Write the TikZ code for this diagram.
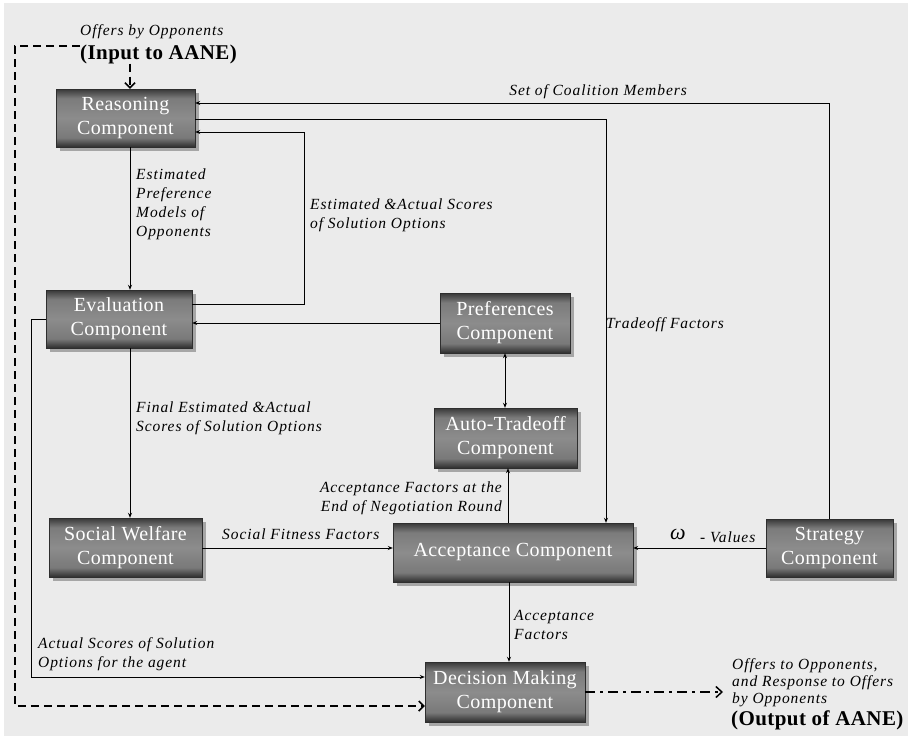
\documentclass[tikz,border=0pt]{standalone}
\usepackage{fontspec}
\setmainfont{Liberation Serif}
\newfontfamily\lblfamily[LetterSpace=6]{Liberation Serif}
\newfontfamily\boxfamily[LetterSpace=2]{Liberation Serif}
\usetikzlibrary{arrows.meta,calc,backgrounds}
\definecolor{bg}{HTML}{EBEBEB}
\definecolor{boxtop}{HTML}{383838}
\definecolor{boxmid}{HTML}{8C8C8C}
\definecolor{boxbot}{HTML}{2E2E2E}
\definecolor{shadowgray}{HTML}{A6A6A6}
% dark rim at top and bottom, light band across the middle
\pgfdeclareverticalshading{compshade}{100bp}{%
  color(0bp)=(boxbot); color(25bp)=(boxbot); color(33bp)=(boxmid!80!boxbot);
  color(50bp)=(boxmid); color(67bp)=(boxmid!80!boxtop);
  color(75bp)=(boxtop); color(100bp)=(boxtop)}
\begin{document}
\begin{tikzpicture}[x=1pt,y=-1pt,
  comp/.style={inner sep=0pt, text=white, align=center,
    font=\boxfamily\fontsize{20}{24}\selectfont,
    shading=compshade, draw=boxbot, line width=0.4pt},
  lbl/.style={inner sep=0pt, align=left, anchor=base west,
    font=\lblfamily\itshape\fontsize{15.5}{19}\selectfont},
  tag/.style={inner sep=0pt, anchor=base west,
    font=\boxfamily\bfseries\fontsize{21}{24}\selectfont},
  arr/.style={draw, line width=0.9pt, -{Stealth[length=5pt,width=4pt]}},
  flow/.style={draw, line width=1.5pt, dash pattern=on 8pt off 5pt,
    -{Straight Barb[length=5pt,width=10pt,line width=1.5pt]}},
  outflow/.style={draw, line width=1.5pt,
    dash pattern=on 10pt off 5pt on 3pt off 5pt,
    -{Straight Barb[length=6pt,width=11pt,line width=1.5pt]}},
  shadowbox/.style={fill=shadowgray}]

\useasboundingbox (0,0) rectangle (908,736);

% components
\node[comp, minimum width=139pt, minimum height=58pt] (reason) at (125.5,118) {Reasoning\\Component};
\node[comp, minimum width=146pt, minimum height=58pt] (eval)   at (119,319)   {Evaluation\\Component};
\node[comp, minimum width=130pt, minimum height=60pt] (pref)   at (505,323)   {Preferences\\Component};
\node[comp, minimum width=143pt, minimum height=60pt] (auto)   at (505.5,438) {Auto-Tradeoff\\Component};
\node[comp, minimum width=240pt, minimum height=59pt] (accept) at (513,552.5) {Acceptance Component};
\node[comp, minimum width=153pt, minimum height=59pt] (social) at (125.5,547.5){Social Welfare\\Component};
\node[comp, minimum width=127pt, minimum height=58pt] (strat)  at (829.5,548) {Strategy\\Component};
\node[comp, minimum width=160pt, minimum height=60pt] (decide) at (505,692)   {Decision Making\\Component};

% page ground and the drop shadows behind the components
\begin{scope}[on background layer]
  \fill[white] (0,0) rectangle (908,736);
  \fill[bg] (4,3) rectangle (908,736);
  \foreach \n in {reason,eval,pref,auto,accept,social,strat,decide}
    \fill[shadowbox] ($(\n.north west)+(4,4)$) rectangle ($(\n.south east)+(4,4)$);
\end{scope}

% input / output captions
\node[lbl] (inoffer) at (80,35) {Offers by Opponents};
\node[tag] (inlbl) at (80,59) {(Input to AANE)};
\node[lbl, font=\lblfamily\itshape\fontsize{15.5}{17}\selectfont] (outoffer) at (732,703)
  {Offers to Opponents,\\and Response to Offers\\by Opponents};
\node[tag] (outlbl) at (731,725) {(Output of AANE)};

% routing points
\coordinate (colL)  at (130,0);
\coordinate (coal)  at (829,103);
\coordinate (trade) at (606,119);
\coordinate (sc1)   at (304,304);
\coordinate (sc2)   at (304,132);
\coordinate (ac1)   at (31,319);
\coordinate (ac2)   at (31,677);
\coordinate (sf)    at (300,548);
\coordinate (upx)   at (508,0);
\coordinate (dnx)   at (509,0);
\coordinate (in1)   at (15,46);
\coordinate (in2)   at (15,706);
\coordinate (outx)  at (723,692);

% connectors
\draw[arr] (strat.north -| coal) -- (coal) -- (reason.east |- coal);
\draw[arr] (reason.east |- trade) -- (trade) -- (accept.north -| trade);
\draw[arr] (eval.east |- sc1) -- (sc1) -- (sc2) -- (reason.east |- sc2);
\draw[arr] (reason.south -| colL) -- (eval.north -| colL);
\draw[arr] (pref.west) -- (eval.east |- pref.west);
\draw[draw, line width=0.9pt, {Stealth[length=5pt,width=4pt]}-{Stealth[length=5pt,width=4pt]}] (pref.south) -- (auto.north -| pref.south);
\draw[arr] (eval.south -| colL) -- (social.north -| colL);
\draw[arr] (eval.west |- ac1) -- (ac1) -- (ac2) -- (decide.west |- ac2);
\draw[arr] (social.east |- sf) -- (accept.west |- sf);
\draw[arr] (strat.west |- sf) -- (accept.east |- sf);
\draw[arr] (accept.north -| upx) -- (auto.south -| upx);
\draw[arr] (accept.south -| dnx) -- (decide.north -| dnx);

% agent input and output flows
\draw[flow] (inlbl.south -| colL) -- (reason.north -| colL);
\draw[flow] (inlbl.west |- in1) -- (in1) -- (in2) -- (decide.west |- in2);
\draw[outflow] (decide.east |- outx) -- (outx);

% connector labels (a multi-line label sits on the baseline of its last line)
\node[lbl, anchor=base east] at (687,95) {Set of Coalition Members};
\node[lbl, font=\lblfamily\itshape\fontsize{15.5}{18.7}\selectfont] at (136,236) {Estimated\\Preference\\Models of\\Opponents};
\node[lbl] at (310,228) {Estimated \&Actual Scores\\of Solution Options};
\node[lbl] at (606,328) {Tradeoff Factors};
\node[lbl] at (136,431) {Final Estimated \&Actual\\Scores of Solution Options};
\node[lbl, align=right, anchor=base east] at (502,511) {Acceptance Factors at the\\End of Negotiation Round};
\node[lbl] at (222,539) {Social Fitness Factors};
\node[lbl, font=\lblfamily\itshape\fontsize{22}{22}\selectfont] at (670,539) {ω};
\node[lbl] at (700,542) {- Values};
\node[lbl] at (514,639) {Acceptance\\Factors};
\node[lbl] at (38,667) {Actual Scores of Solution\\Options for the agent};
\end{tikzpicture}
\end{document}
